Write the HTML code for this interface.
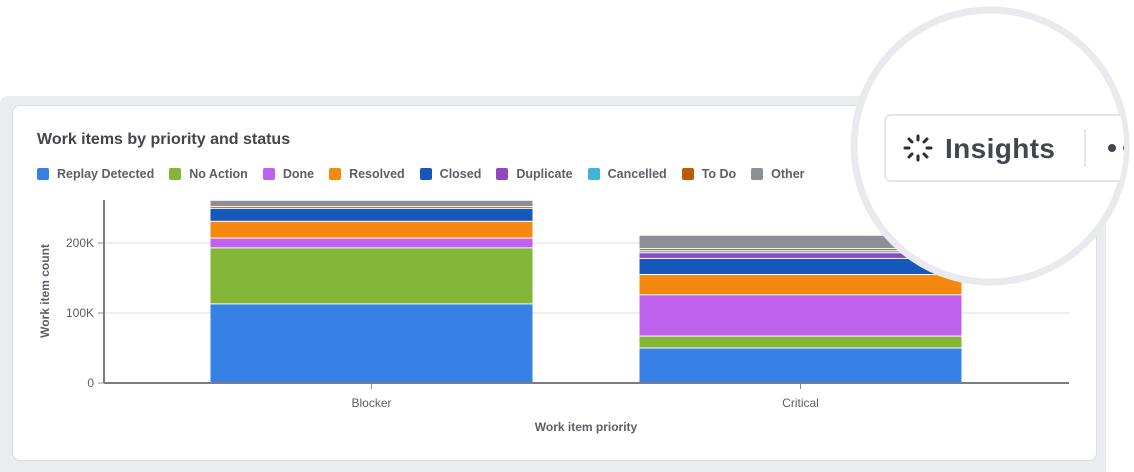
<!DOCTYPE html>
<html><head><meta charset="utf-8"><style>
body{margin:0;width:1134px;height:472px;background:#fff;position:relative;overflow:hidden;font-family:"Liberation Sans",sans-serif;}
.frame{position:absolute;left:0;top:96px;width:1106px;height:376px;background:#ebecf0;border-radius:8px 8px 0 0;}
.card{position:absolute;left:12px;top:105px;width:1083px;height:354px;background:#fff;border:1px solid #dcdde1;border-radius:8px;}
.title{position:absolute;left:37px;top:131px;font-size:16px;font-weight:bold;color:#44464d;}
.legend{position:absolute;left:37px;top:167px;display:flex;font-size:12.5px;font-weight:bold;color:#5c5f66;}
.li{display:flex;align-items:center;margin-right:15px;}
.sw{width:12px;height:12px;border-radius:2px;margin-right:8px;}
</style></head><body>
<div class="frame"></div>
<div class="card"></div>
<div class="title">Work items by priority and status</div>
<div class="legend" id="legend"></div>
<svg id="chart" width="1134" height="472" style="position:absolute;left:0;top:0"></svg>
<script>
const categories=["Blocker","Critical"];
const seriesNames=["Replay Detected","No Action","Done","Resolved","Closed","Duplicate","Cancelled","To Do","Other"];
const colors=["#3780e5","#83b537","#bf63ef","#f5880f","#1558b9","#8f48c0","#3fb4d8","#bd5a06","#8c8f96"];
const replayDetected=[113000,50000];
const noAction=[80000,17000];
const done=[14000,59000];
const resolved=[24000,29000];
const closed=[18500,23000];
const duplicate=[0,8000];
const cancelled=[0,3000];
const toDo=[2500,3000];
const other=[9000,19000];
const yTicks=[0,100000,200000];
const yTickLabels=["0","100K","200K"];
const series=[replayDetected,noAction,done,resolved,closed,duplicate,cancelled,toDo,other];
const NS="http://www.w3.org/2000/svg";
const svg=document.getElementById('chart');
const x0=104,x1=1069,yBase=383,pxPer=70/100000;
const y=v=>yBase-v*pxPer;
const bandLeft=157,band=429;
const xc=i=>bandLeft+band*(i+0.5);
const barW=322;
function mk(t,a){const e=document.createElementNS(NS,t);for(const k in a)e.setAttribute(k,a[k]);svg.appendChild(e);return e;}
const lg=document.getElementById('legend');
seriesNames.forEach((n,i)=>{const d=document.createElement('div');d.className='li';


d.innerHTML='<span class="sw" style="background:'+colors[i]+'"></span>'+n;lg.appendChild(d);});
yTicks.forEach((t,i)=>{
 if(t>0){const g=mk('line',{x1:x0,x2:x1,y1:y(t),y2:y(t),stroke:'#e8e9ec','stroke-width':1.5});
 
 }
 const tk=mk('line',{x1:x0-6,x2:x0,y1:y(t),y2:y(t),stroke:'#8c8f96'});
 
 
 const tx=mk('text',{x:x0-10,y:y(t)+4,'text-anchor':'end','font-size':12,fill:'#5c5f66'});tx.textContent=yTickLabels[i];
 
 
});
categories.forEach((c,i)=>{
 let acc=0;
 series.forEach((s,k)=>{const v=s[i];if(v<=0)return;
  const r=mk('rect',{x:xc(i)-barW/2,y:y(acc+v)+0.5,width:barW,height:Math.max(v*pxPer-1,0.8),fill:colors[k]});
  
  
  acc+=v;});
 const tk=mk('line',{x1:xc(i),x2:xc(i),y1:yBase,y2:yBase+6,stroke:'#8c8f96'});
 
 
 const tx=mk('text',{x:xc(i),y:yBase+24,'text-anchor':'middle','font-size':12,fill:'#5c5f66'});tx.textContent=c;
 
 
});
const ax=mk('line',{x1:x0,x2:x1,y1:yBase,y2:yBase,stroke:'#7a7d85','stroke-width':2});


const ay=mk('line',{x1:x0,x2:x0,y1:200,y2:yBase,stroke:'#7a7d85','stroke-width':2});


const xt=mk('text',{x:586,y:431,'text-anchor':'middle','font-size':12,'font-weight':'bold',fill:'#5c5f66'});xt.textContent='Work item priority';


const yt=mk('text',{x:0,y:0,'text-anchor':'middle','font-size':12,'font-weight':'bold',fill:'#5c5f66',transform:'translate(49,291) rotate(-90)'});yt.textContent='Work item count';


// magnifier overlay
const cl=mk('circle',{cx:990,cy:146,r:136,fill:'#fff',stroke:'#e9eaee','stroke-width':7});


const clip=mk('clipPath',{id:'cc'});const cc=document.createElementNS(NS,'circle');cc.setAttribute('cx',990);cc.setAttribute('cy',146);cc.setAttribute('r',134);clip.appendChild(cc);
const g=mk('g',{'clip-path':'url(#cc)'});


g.innerHTML='<rect x="885" y="115" width="300" height="66" rx="6" fill="#fff" stroke="#dcdde1" stroke-width="1.5"/>'+
'<g stroke="#2b2d33" stroke-width="3" stroke-linecap="round"><line x1="918" y1="136" x2="918" y2="140"/><line x1="918" y1="156" x2="918" y2="160"/><line x1="905" y1="148" x2="909" y2="148"/><line x1="927" y1="148" x2="931" y2="148"/><line x1="909" y1="139" x2="912" y2="142"/><line x1="924" y1="154" x2="927" y2="157"/><line x1="927" y1="139" x2="924" y2="142"/><line x1="912" y1="154" x2="909" y2="157"/></g>'+
'<text x="945" y="158" font-size="28" font-weight="bold" fill="#44464d" font-family="Liberation Sans,sans-serif" textLength="110">Insights</text>'+
'<line x1="1085" y1="129" x2="1085" y2="167" stroke="#dcdde1" stroke-width="1.5"/>'+
'<circle cx="1112" cy="148" r="4" fill="#44464d"/><circle cx="1127" cy="148" r="4" fill="#44464d"/>';
</script>
</body></html>
